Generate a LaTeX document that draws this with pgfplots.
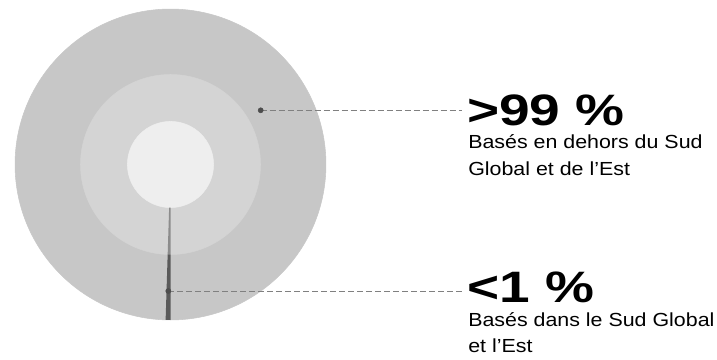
\documentclass[border=0pt]{standalone}
\usepackage{fontspec}
\setmainfont{Liberation Sans}
\newfontfamily\boldwide[FakeStretch=1.25]{Liberation Sans}
\newfontfamily\regwide[FakeStretch=1.13]{Liberation Sans}
\usepackage{pgfplots}
\pgfplotsset{compat=1.18}
\definecolor{outerc}{HTML}{C7C7C7}
\definecolor{midc}{HTML}{D4D4D4}
\definecolor{innerc}{HTML}{EEEEEE}
\definecolor{wedgemid}{HTML}{8C8C8C}
\definecolor{wedgeout}{HTML}{5A5A5A}
\definecolor{dotc}{HTML}{4D4D4D}
\definecolor{dashc}{HTML}{808080}
\begin{document}
\begin{tikzpicture}
\begin{axis}[scale only axis, width=537.75pt, height=270pt,
  xmin=0, xmax=717, ymin=0, ymax=360, y dir=reverse,
  hide axis, clip=false, clip marker paths=true]
\path (axis cs:0,0) rectangle (axis cs:717,360);
% rings as concentric discs
\addplot[outerc, only marks, mark=*, mark size=116.6pt, mark options={fill=outerc, draw=none}] coordinates {(170.5,164.5)};
\addplot[midc, only marks, mark=*, mark size=67.5pt, mark options={fill=midc, draw=none}] coordinates {(170.5,164.5)};
\addplot[innerc, only marks, mark=*, mark size=32.3pt, mark options={fill=innerc, draw=none}] coordinates {(170.5,164.5)};
% <1 % wedge (about 0.5 % of the circle)
\addplot[fill=wedgemid, draw=none] coordinates {(170.5,207.5) (170.5,254.5) (167.67,254.45) (169.15,207.5)} -- cycle;
\addplot[fill=wedgeout, draw=none] coordinates {(170.5,254.5) (170.5,320) (165.62,319.9) (167.67,254.45)} -- cycle;
% leader lines
\addplot[dashc, line width=0.75pt, dash pattern=on 4.5pt off 2.25pt] coordinates {(260.7,110.3) (462,110.3)};
\addplot[dashc, line width=0.75pt, dash pattern=on 4.5pt off 2.25pt] coordinates {(168.3,291) (462,291)};
\addplot[dotc, only marks, mark=*, mark size=1.9pt, mark options={fill=dotc, draw=none}] coordinates {(260.7,110.3) (168.3,291)};
% labels
\node[anchor=base west, inner sep=0pt] at (axis cs:467,125.5) {\boldwide\bfseries\fontsize{33pt}{33pt}\selectfont >99~\%};
\node[anchor=base west, inner sep=0pt] at (axis cs:468,148.5) {\regwide\fontsize{14.2pt}{14.2pt}\selectfont Basés en dehors du Sud};
\node[anchor=base west, inner sep=0pt] at (axis cs:468,175.5) {\regwide\fontsize{14.2pt}{14.2pt}\selectfont Global et de l’Est};
\node[anchor=base west, inner sep=0pt] at (axis cs:467,302) {\boldwide\bfseries\fontsize{33pt}{33pt}\selectfont <1~\%};
\node[anchor=base west, inner sep=0pt] at (axis cs:468,326) {\regwide\fontsize{14.2pt}{14.2pt}\selectfont Basés dans le Sud Global};
\node[anchor=base west, inner sep=0pt] at (axis cs:468,352) {\regwide\fontsize{14.2pt}{14.2pt}\selectfont et l’Est};
\end{axis}
\end{tikzpicture}
\end{document}
